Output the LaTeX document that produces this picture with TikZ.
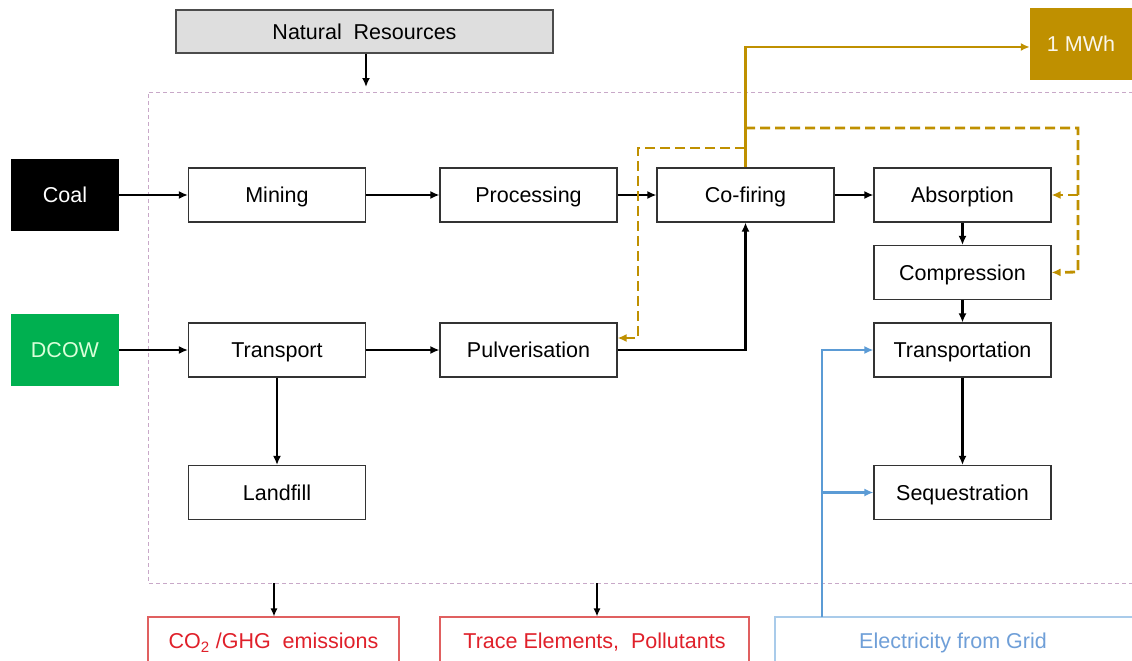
\documentclass[tikz,border=0pt]{standalone}
\usepackage{fontspec}
\setmainfont{Liberation Sans}
\usetikzlibrary{arrows.meta}
\definecolor{gold}{HTML}{BF9000}
\definecolor{dgreen}{HTML}{00B050}
\definecolor{redtx}{HTML}{E0202A}
\definecolor{redbd}{HTML}{E06060}
\definecolor{bluel}{HTML}{5B9BD5}
\definecolor{bluetx}{HTML}{6F9FD8}
\definecolor{bluebd}{HTML}{A9CBEA}
\definecolor{frame}{HTML}{C8A8C8}
\begin{document}
\begin{tikzpicture}[x=1pt,y=-1pt,
  every node/.style={font=\fontsize{21.5}{24}\selectfont, text height=15.5pt, text depth=0pt},
  proc/.style={draw=black!80, line width=1.1pt, fill=white, minimum width=177pt, minimum height=54pt, inner sep=0pt},
  src/.style={minimum width=108pt, minimum height=72pt, inner sep=0pt, text=white},
  outbox/.style={line width=1.2pt, fill=white, minimum height=48pt, inner sep=0pt},
  flow/.style={line width=2.2pt, -{Latex[length=9pt,width=8pt]}},
  thin/.style={line width=1.3pt, -{Latex[length=8pt,width=7pt]}},
  goldline/.style={gold, line width=2.4pt, -{Latex[length=9pt,width=8pt]}},
  golddash/.style={gold, line width=2.8pt, dash pattern=on 10pt off 5pt, -{Latex[length=9pt,width=8pt]}},
  blueline/.style={bluel, line width=2.4pt, -{Latex[length=9pt,width=8pt]}}
]
\useasboundingbox (0,0) rectangle (1132,661);

% system boundary
\draw[frame, line width=1pt, dash pattern=on 4pt off 3pt] (1140,92) -- (148,92) -- (148,583) -- (1140,583);

% top
\node[draw=black!70, line width=1.2pt, fill=black!13, minimum width=377pt, minimum height=43pt, inner sep=0pt] (nat) at (364.5,31.5) {Natural\ \ Resources};
\coordinate (natin) at (366,87);
\draw[flow] (nat.south -| natin) -- (natin);

% sources
\node[src, fill=black] (coal) at (65,195) {Coal};
\node[src, fill=dgreen, text=green!15] (dcow) at (65,350) {DCOW};
\node[fill=gold, minimum width=110pt, minimum height=72pt, inner sep=0pt, text=white!92!gold] (mwh) at (1085,44) {\hspace*{-8pt}1 MWh};

% processes
\node[proc] (mining) at (277,195) {Mining};
\node[proc] (proc) at (528.5,195) {Processing};
\node[proc] (cofire) at (745.5,195) {Co-firing};
\node[proc] (absorb) at (962.5,195) {Absorption};
\node[proc] (compr) at (962.5,272.5) {Compression};
\node[proc] (transp) at (962.5,350) {Transportation};
\node[proc] (seq) at (962.5,492.5) {Sequestration};
\node[proc] (transport) at (277,350) {Transport};
\node[proc] (pulv) at (528.5,350) {Pulverisation};
\node[proc] (land) at (277,492.5) {Landfill};

% outputs
\node[outbox, draw=redbd, text=redtx, minimum width=251pt] (co2) at (273.5,641) {CO\textsubscript{2} /GHG\ \ emissions};
\node[outbox, draw=redbd, text=redtx, minimum width=309pt] (trace) at (594.5,641) {Trace Elements,\ \ Pollutants};
\node[outbox, draw=bluebd, text=bluetx, minimum width=370pt] (grid) at (960,641) {\hspace*{-14pt}Electricity\ from\ Grid};

% black flows
\draw[flow] (coal) -- (mining);
\draw[flow] (mining) -- (proc);
\draw[flow] (proc) -- (cofire);
\draw[flow] (cofire) -- (absorb);
\draw[flow] (absorb) -- (compr);
\draw[flow] (compr) -- (transp);
\draw[flow] (transp) -- (seq);
\draw[flow] (dcow) -- (transport);
\draw[flow] (transport) -- (pulv);
\draw[flow] (transport) -- (land);
\draw[flow] (pulv.east) -| (cofire.south);

% emissions
\coordinate (e1) at (274,583);
\coordinate (e2) at (597,583);
\draw[thin] (e1) -- (e1 |- co2.north);
\draw[thin] (e2) -- (e2 |- trace.north);

% gold: energy output and heat recycling
\draw[goldline] (cofire.north) |- (mwh.west |- 0,47);
\coordinate (d1) at (745,148);
\coordinate (d2) at (745,128);
\draw[golddash] (d1) -| (638,338) -- (pulv.east |- 0,338);
\draw[golddash] (d2) -| (1078,272) -- (compr.east);
\draw[golddash] (1078,195) -- (absorb.east);

% blue: electricity from grid
\coordinate (g) at (822,617);
\draw[blueline] (g) |- (transp.west);
\draw[blueline] (822,492.5) -- (seq.west);
\end{tikzpicture}
\end{document}
